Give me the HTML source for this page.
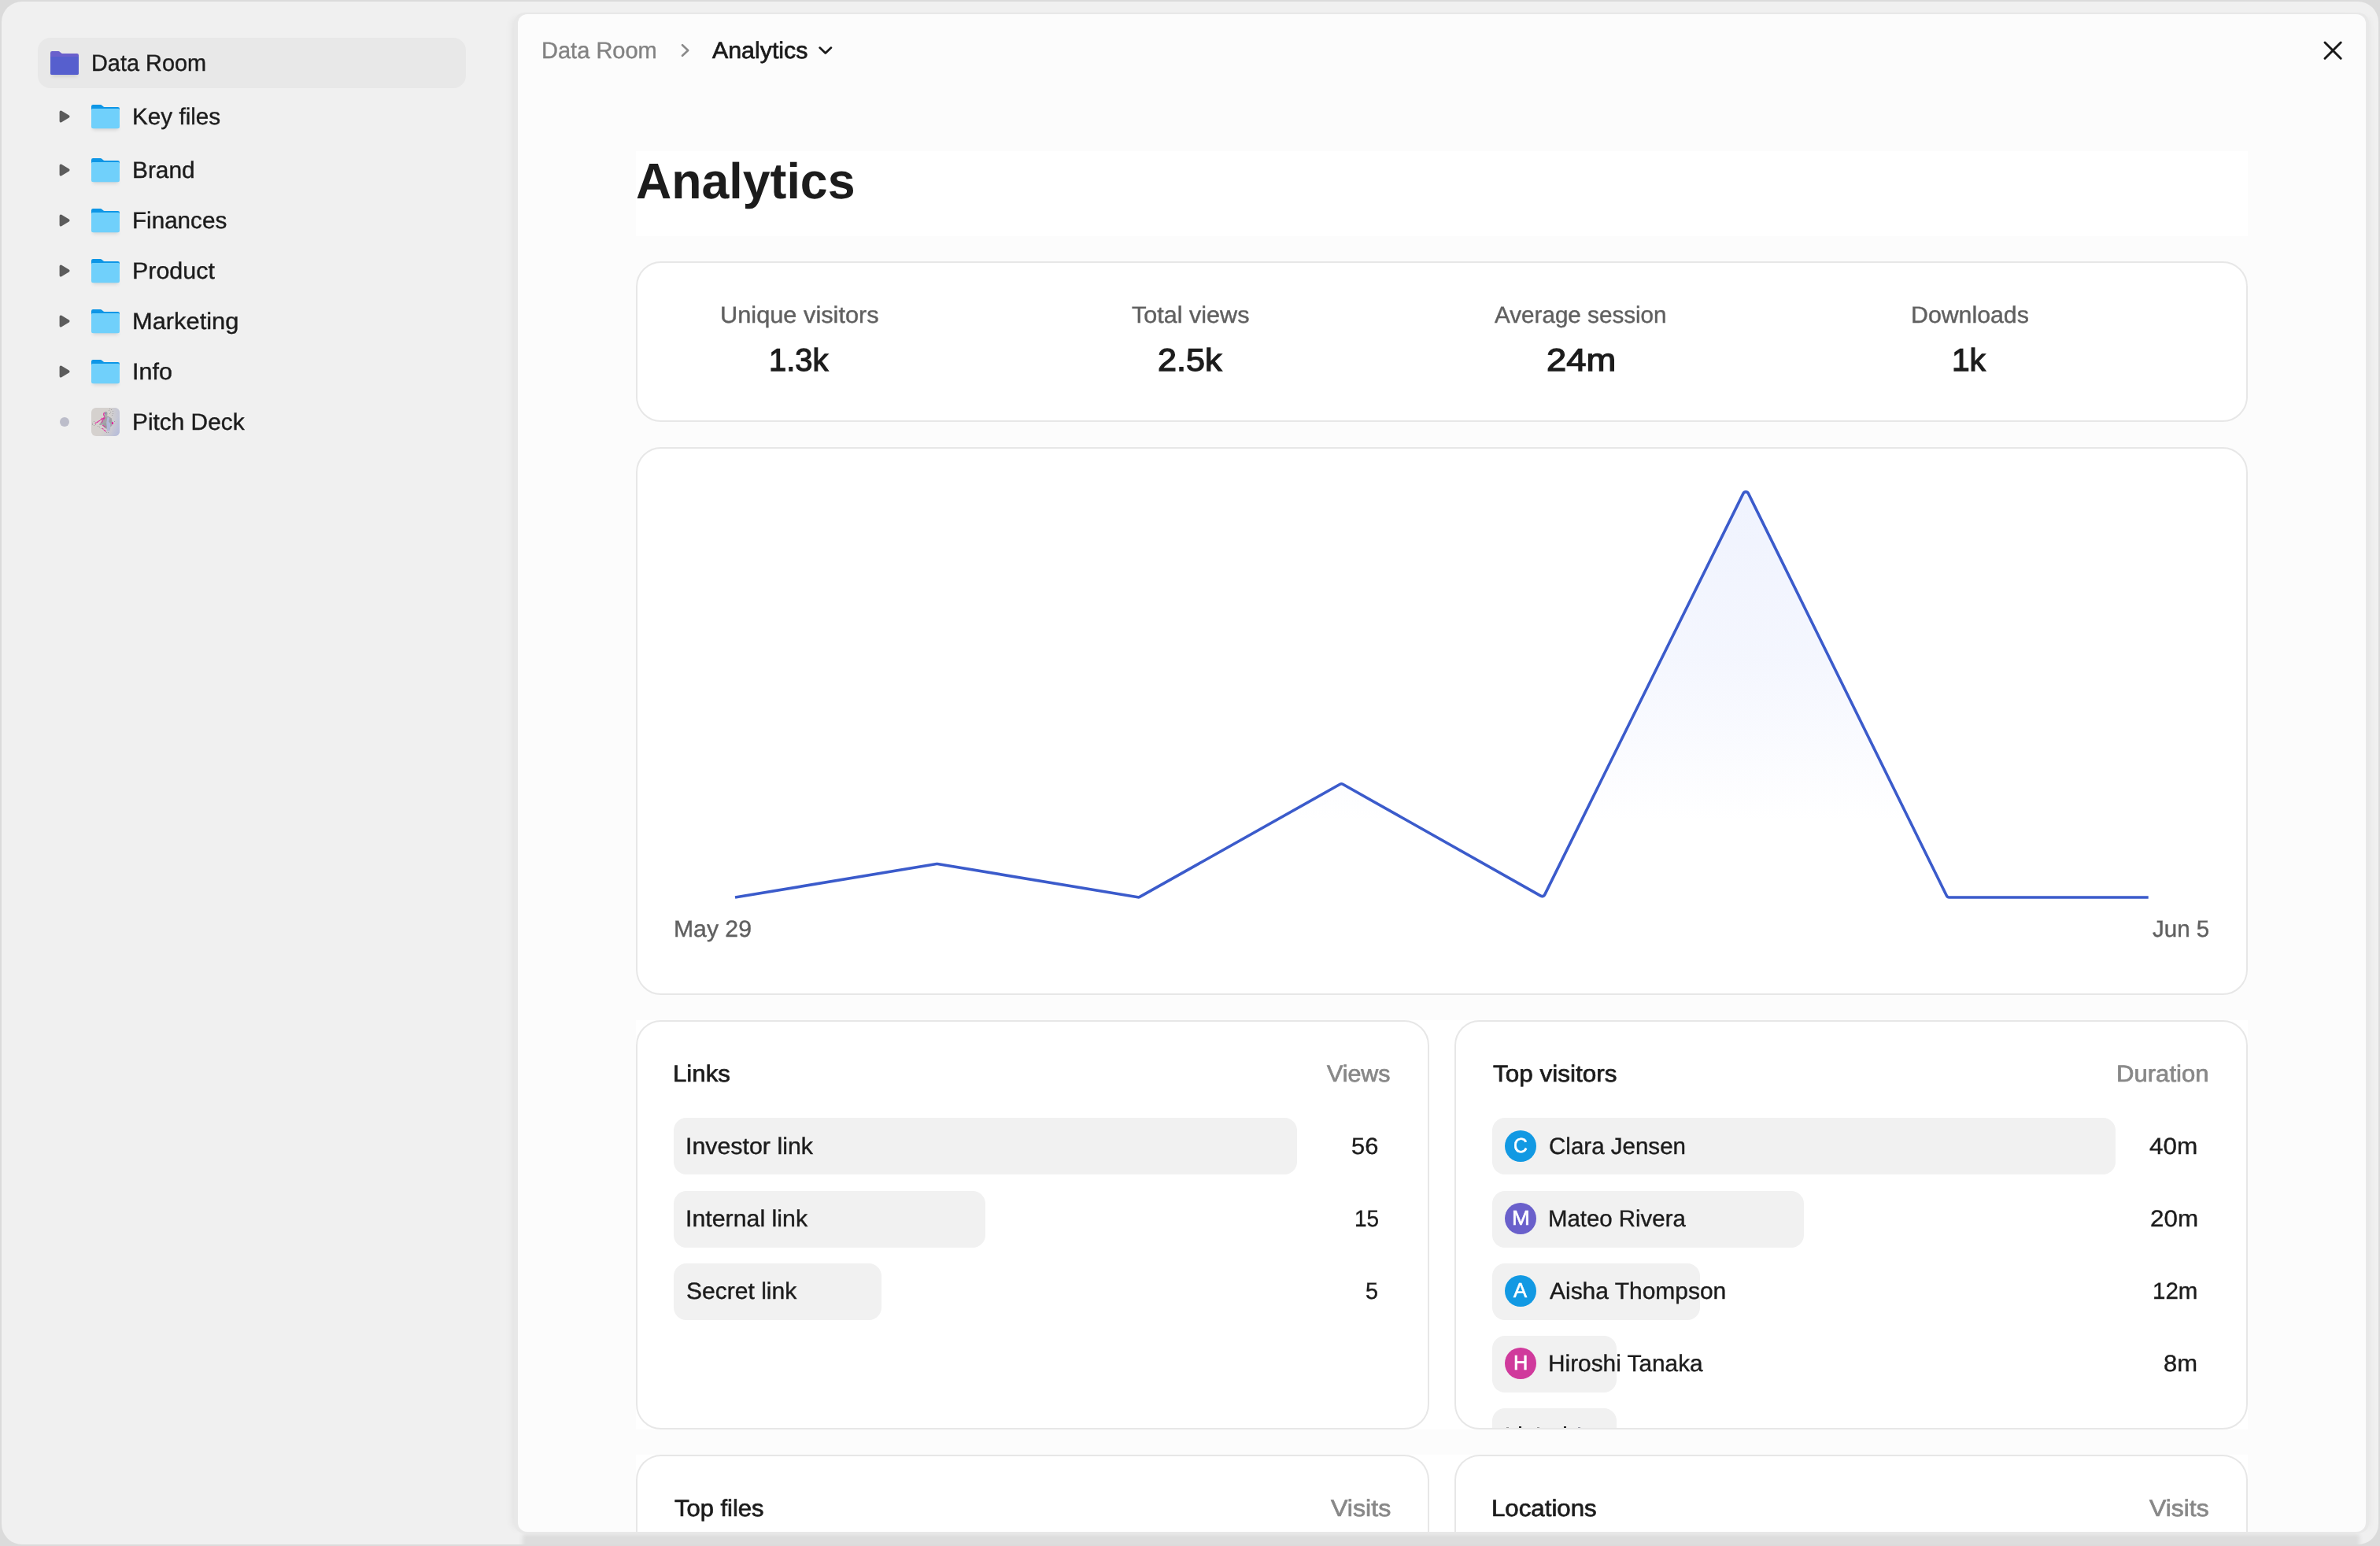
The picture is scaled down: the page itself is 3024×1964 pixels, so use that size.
<!DOCTYPE html>
<html lang="en"><head><meta charset="utf-8"><title>Data Room - Analytics</title>
<style>
*{box-sizing:border-box}
html,body{margin:0;padding:0}
body{width:3024px;height:1964px;overflow:hidden;background:#dbdbdb;position:relative;font-family:"Liberation Sans",sans-serif;text-rendering:geometricPrecision}
.a{position:absolute;display:block}
.t{position:absolute;white-space:pre;display:block;transform-origin:0 0}
.win{left:2px;top:2px;width:3020px;height:1960px;background:#f0f0f0;border-radius:26px;overflow:hidden}
.sel{left:48px;top:48px;width:544px;height:64px;border-radius:16px;background:#e8e8e8}
.panel{left:658px;top:18px;width:2348px;height:1928px;background:#fcfcfc;border-radius:12px;box-shadow:0 0 0 2px #e8e8e8,-3px 0 0 2px #e8e8e8,2px 0 0 2px #e8e8e8,-12px 0 10px -4px rgba(0,0,0,.05),10px 0 8px -4px rgba(0,0,0,.04)}
.band{left:666px;top:1951px;width:2326px;height:20px;background:#dddddd;box-shadow:0 0 5px 4px #dddddd}
.white{background:#fff}
.card{background:#fff;border:2px solid #e7e7e7;border-radius:32px;overflow:hidden}
.bar{background:#f1f1f1;border-radius:16px;height:72px}
.av{width:40px;height:40px;border-radius:50%}
</style></head><body>
<svg width="0" height="0" style="position:absolute"><defs><filter id="fb" x="-20%" y="-200%" width="140%" height="500%"><feGaussianBlur stdDeviation="2"/></filter></defs></svg>
<div class="a win"><div class="a band"></div></div>
<div class="a sel"></div>
<!-- sidebar icons -->
<svg class="a" style="left:58px;top:60px" width="48" height="44" viewBox="58 60 48 44">
<rect x="65.5" y="92" width="33" height="5" rx="2" fill="#000" fill-opacity=".13" filter="url(#fb)"/>
<path d="M64 67.2Q64 65 66.2 65H74.2Q75.2 65 75.9 65.7L77.6 67.3Q78.3 68 79.3 68H97.8Q100 68 100 70.2V92.8Q100 95 97.8 95H66.2Q64 95 64 92.8Z" fill="#6a60cc"/>
<path d="M64 72H100V92.8Q100 95 97.8 95H66.2Q64 95 64 92.8Z" fill="#565fce"/>
</svg>
<svg class="a" style="left:70.3px;top:136px" width="24" height="24" viewBox="-12 -12 24 24"><path d="M-4.7 -5.8L4.8 0L-4.7 5.8Z" fill="#5c5c5c" stroke="#5c5c5c" stroke-width="3.4" stroke-linejoin="round"/></svg><svg class="a" style="left:112px;top:129px" width="44" height="42" viewBox="-4 -4 44 42">
<rect x="1.5" y="27" width="33" height="5" rx="2" fill="#000" fill-opacity=".13" filter="url(#fb)"/>
<path d="M0 2.2Q0 0 2.2 0H11.6Q12.6 0 13.4 .7L15.4 2.6Q15.9 3 16.6 3H33.8Q36 3 36 5.2V10H0Z" fill="#0d96e6"/>
<path d="M0 6.6Q0 5 1.6 5H34.4Q36 5 36 6.6V28Q36 30.2 33.8 30.2H2.2Q0 30.2 0 28Z" fill="#70d0fb"/>
</svg><svg class="a" style="left:70.3px;top:204px" width="24" height="24" viewBox="-12 -12 24 24"><path d="M-4.7 -5.8L4.8 0L-4.7 5.8Z" fill="#5c5c5c" stroke="#5c5c5c" stroke-width="3.4" stroke-linejoin="round"/></svg><svg class="a" style="left:112px;top:197px" width="44" height="42" viewBox="-4 -4 44 42">
<rect x="1.5" y="27" width="33" height="5" rx="2" fill="#000" fill-opacity=".13" filter="url(#fb)"/>
<path d="M0 2.2Q0 0 2.2 0H11.6Q12.6 0 13.4 .7L15.4 2.6Q15.9 3 16.6 3H33.8Q36 3 36 5.2V10H0Z" fill="#0d96e6"/>
<path d="M0 6.6Q0 5 1.6 5H34.4Q36 5 36 6.6V28Q36 30.2 33.8 30.2H2.2Q0 30.2 0 28Z" fill="#70d0fb"/>
</svg><svg class="a" style="left:70.3px;top:268px" width="24" height="24" viewBox="-12 -12 24 24"><path d="M-4.7 -5.8L4.8 0L-4.7 5.8Z" fill="#5c5c5c" stroke="#5c5c5c" stroke-width="3.4" stroke-linejoin="round"/></svg><svg class="a" style="left:112px;top:261px" width="44" height="42" viewBox="-4 -4 44 42">
<rect x="1.5" y="27" width="33" height="5" rx="2" fill="#000" fill-opacity=".13" filter="url(#fb)"/>
<path d="M0 2.2Q0 0 2.2 0H11.6Q12.6 0 13.4 .7L15.4 2.6Q15.9 3 16.6 3H33.8Q36 3 36 5.2V10H0Z" fill="#0d96e6"/>
<path d="M0 6.6Q0 5 1.6 5H34.4Q36 5 36 6.6V28Q36 30.2 33.8 30.2H2.2Q0 30.2 0 28Z" fill="#70d0fb"/>
</svg><svg class="a" style="left:70.3px;top:332px" width="24" height="24" viewBox="-12 -12 24 24"><path d="M-4.7 -5.8L4.8 0L-4.7 5.8Z" fill="#5c5c5c" stroke="#5c5c5c" stroke-width="3.4" stroke-linejoin="round"/></svg><svg class="a" style="left:112px;top:325px" width="44" height="42" viewBox="-4 -4 44 42">
<rect x="1.5" y="27" width="33" height="5" rx="2" fill="#000" fill-opacity=".13" filter="url(#fb)"/>
<path d="M0 2.2Q0 0 2.2 0H11.6Q12.6 0 13.4 .7L15.4 2.6Q15.9 3 16.6 3H33.8Q36 3 36 5.2V10H0Z" fill="#0d96e6"/>
<path d="M0 6.6Q0 5 1.6 5H34.4Q36 5 36 6.6V28Q36 30.2 33.8 30.2H2.2Q0 30.2 0 28Z" fill="#70d0fb"/>
</svg><svg class="a" style="left:70.3px;top:396px" width="24" height="24" viewBox="-12 -12 24 24"><path d="M-4.7 -5.8L4.8 0L-4.7 5.8Z" fill="#5c5c5c" stroke="#5c5c5c" stroke-width="3.4" stroke-linejoin="round"/></svg><svg class="a" style="left:112px;top:389px" width="44" height="42" viewBox="-4 -4 44 42">
<rect x="1.5" y="27" width="33" height="5" rx="2" fill="#000" fill-opacity=".13" filter="url(#fb)"/>
<path d="M0 2.2Q0 0 2.2 0H11.6Q12.6 0 13.4 .7L15.4 2.6Q15.9 3 16.6 3H33.8Q36 3 36 5.2V10H0Z" fill="#0d96e6"/>
<path d="M0 6.6Q0 5 1.6 5H34.4Q36 5 36 6.6V28Q36 30.2 33.8 30.2H2.2Q0 30.2 0 28Z" fill="#70d0fb"/>
</svg><svg class="a" style="left:70.3px;top:460px" width="24" height="24" viewBox="-12 -12 24 24"><path d="M-4.7 -5.8L4.8 0L-4.7 5.8Z" fill="#5c5c5c" stroke="#5c5c5c" stroke-width="3.4" stroke-linejoin="round"/></svg><svg class="a" style="left:112px;top:453px" width="44" height="42" viewBox="-4 -4 44 42">
<rect x="1.5" y="27" width="33" height="5" rx="2" fill="#000" fill-opacity=".13" filter="url(#fb)"/>
<path d="M0 2.2Q0 0 2.2 0H11.6Q12.6 0 13.4 .7L15.4 2.6Q15.9 3 16.6 3H33.8Q36 3 36 5.2V10H0Z" fill="#0d96e6"/>
<path d="M0 6.6Q0 5 1.6 5H34.4Q36 5 36 6.6V28Q36 30.2 33.8 30.2H2.2Q0 30.2 0 28Z" fill="#70d0fb"/>
</svg>
<div class="a" style="left:76px;top:530px;width:12px;height:12px;border-radius:50%;background:#bcbdca"></div>
<svg class="a" style="left:116px;top:518px" width="36" height="36" viewBox="0 0 36 36">
<defs><clipPath id="tc"><rect width="36" height="36" rx="6"/></clipPath>
<linearGradient id="tg" x1="0" y1="0" x2="1" y2="0"><stop offset=".66" stop-color="#b2bade" stop-opacity="0"/><stop offset=".86" stop-color="#b2bade" stop-opacity=".32"/><stop offset="1" stop-color="#b2bade" stop-opacity=".5"/></linearGradient>
<linearGradient id="tg2" x1="0" y1="0" x2="1" y2="1"><stop offset=".62" stop-color="#aeb7dd" stop-opacity="0"/><stop offset="1" stop-color="#aeb7dd" stop-opacity=".7"/></linearGradient></defs>
<g clip-path="url(#tc)"><rect width="36" height="36" fill="#d5d1ce"/><rect width="36" height="36" fill="url(#tg)"/><rect width="36" height="36" fill="url(#tg2)"/>
<g fill="#8f8f92"><circle cx="23.6" cy="1.6" r=".5"/><circle cx="25.6" cy="2.6" r=".5"/><circle cx="22.6" cy="3.6" r=".5"/><circle cx="24.6" cy="5.4" r=".5"/><circle cx="27.6" cy="4.4" r=".5"/><circle cx="23.6" cy="7.6" r=".5"/><circle cx="27.6" cy="7.6" r=".5"/><circle cx="26.6" cy="9.6" r=".5"/><circle cx="3.6" cy="17.4" r=".5"/><circle cx="1.6" cy="19.6" r=".5"/><circle cx="1.6" cy="21.6" r=".5"/><circle cx="3.6" cy="22.6" r=".5"/><circle cx="5.6" cy="21.6" r=".5"/><circle cx="8.6" cy="23.6" r=".5"/><circle cx="10.6" cy="24.6" r=".5"/><circle cx="12.6" cy="26.6" r=".5"/><circle cx="19.6" cy="31.6" r=".5"/><circle cx="21.6" cy="31.6" r=".5"/><circle cx="29.6" cy="17.4" r=".5"/></g>
<ellipse cx="18.6" cy="7.6" rx="1.9" ry="2.9" fill="#a5a5a8"/>
<path d="M16.4 10.6L20.8 10.4L25.8 13.2L27 19.6L26.2 23L24.2 24.2L24 27.4L20 27.8L18.8 24.4L16 24.6L14.2 21.2L12 22.2L9.8 21.6L13 17.2L15.4 13.6Z" fill="#a4a4a8"/>
<path d="M20.6 11.4L23.2 13L22.2 17.8L24.4 20.2L23.6 29.6L20 29.6L19.8 24.2L19.2 19Z" fill="#b3bad9"/>
<path d="M23.4 13.4L25.6 14.8L26.4 19.6L24.6 20.2L22.6 17.6Z" fill="#a0a0a4"/>
<path d="M14.6 20.8L18.8 19.6L19.6 26.8L17.4 26L15.8 23.4Z" fill="#9c9ca1"/>
<path d="M16.4 6.4Q14.8 8.6 16.6 10.8" stroke="#e0249c" stroke-width="1.1" fill="none" stroke-linecap="round"/>
<path d="M5.2 19.6L9.4 17.2L13.2 14.4L17.4 12.8" stroke="#e0249c" stroke-width="1.2" fill="none" stroke-linecap="round" stroke-dasharray="1.2 1.3"/>
<path d="M13.4 13.2L14.2 16.4M15.4 12.8L16 15.2M13 19L14.2 17.2" stroke="#e0249c" stroke-width="1" fill="none" stroke-linecap="round"/>
<path d="M14.6 22.4L17.4 24.2M14.4 26.4L15.6 27.6M16.2 28.4L18.6 30" stroke="#e0249c" stroke-width="1.1" fill="none" stroke-linecap="round" stroke-dasharray="1 1.2"/>
<rect x="26" y="18.2" width="2" height="2.8" fill="#e0249c"/>
<rect x="17.9" y="6.6" width="1" height="1" fill="#5a5fd0"/>
</g></svg>
<!-- main panel -->
<div class="a panel"></div>
<svg class="a" style="left:860px;top:50px" width="24" height="28" viewBox="860 50 24 28"><path d="M867 57.2L874.2 64L867 70.8" fill="none" stroke="#8a8a8a" stroke-width="2.6" stroke-linecap="round" stroke-linejoin="round"/></svg>
<svg class="a" style="left:1034px;top:52px" width="30" height="24" viewBox="1034 52 30 24"><path d="M1041.6 60.6L1048.8 67.4L1056 60.6" fill="none" stroke="#1a1a1a" stroke-width="2.7" stroke-linecap="round" stroke-linejoin="round"/></svg>
<svg class="a" style="left:2944px;top:44px" width="40" height="40" viewBox="2944 44 40 40"><path d="M2954 54L2974.2 74.2M2974.2 54L2954 74.2" fill="none" stroke="#1a1a1a" stroke-width="3" stroke-linecap="round"/></svg>
<div class="a white" style="left:808px;top:192px;width:2048px;height:108px"></div>
<div class="a card" style="left:808px;top:332px;width:2048px;height:204px"></div>
<div class="a card" style="left:808px;top:568px;width:2048px;height:696px"></div>
<svg class="a" style="left:810px;top:570px" width="2044" height="692" viewBox="810 570 2044 692">
<defs><linearGradient id="cg" x1="0" y1="620" x2="0" y2="1140" gradientUnits="userSpaceOnUse"><stop offset="0" stop-color="#5075f2" stop-opacity=".088"/><stop offset=".42" stop-color="#5075f2" stop-opacity=".062"/><stop offset=".82" stop-color="#5075f2" stop-opacity="0"/></linearGradient></defs>
<path d="M934 1140L1190.01 1097.50A3.6 3.6 0 0 1 1191.19 1097.50L1445.75 1139.79A3.6 3.6 0 0 0 1448.10 1139.38L1702.63 996.29A3.6 3.6 0 0 1 1706.17 996.30L1957.69 1138.13A3.6 3.6 0 0 0 1962.69 1136.59L2214.97 626.83A3.6 3.6 0 0 1 2221.42 626.84L2473.41 1137.99A3.6 3.6 0 0 0 2476.64 1140.00L2729.7 1140Z" fill="url(#cg)"/>
<path d="M934 1140L1190.01 1097.50A3.6 3.6 0 0 1 1191.19 1097.50L1445.75 1139.79A3.6 3.6 0 0 0 1448.10 1139.38L1702.63 996.29A3.6 3.6 0 0 1 1706.17 996.30L1957.69 1138.13A3.6 3.6 0 0 0 1962.69 1136.59L2214.97 626.83A3.6 3.6 0 0 1 2221.42 626.84L2473.41 1137.99A3.6 3.6 0 0 0 2476.64 1140.00L2729.7 1140" fill="none" stroke="#3b5bcb" stroke-width="3.6" stroke-linejoin="round"/>
</svg>
<div class="a white" style="left:808px;top:1296px;width:2048px;height:520px"></div>
<div class="a white" style="left:808px;top:1848px;width:2048px;height:98px"></div>
<div class="a card" style="left:808px;top:1296px;width:1008px;height:520px"></div>
<div class="a card" style="left:1848px;top:1296px;width:1008px;height:520px"></div>
<div class="a card" style="left:808px;top:1848px;width:1008px;height:140px;border-bottom:0;border-radius:32px 32px 0 0;clip-path:inset(0 0 42px 0)"></div>
<div class="a card" style="left:1848px;top:1848px;width:1008px;height:140px;border-bottom:0;border-radius:32px 32px 0 0;clip-path:inset(0 0 42px 0)"></div>
<div class="a bar" style="left:856px;top:1420px;width:792px"></div>
<div class="a bar" style="left:856px;top:1513px;width:396px"></div>
<div class="a bar" style="left:856px;top:1605px;width:264px"></div>
<div class="a bar" style="left:1896px;top:1420px;width:792px"></div>
<div class="a bar" style="left:1896px;top:1513px;width:396px"></div>
<div class="a bar" style="left:1896px;top:1605px;width:264px"></div>
<div class="a bar" style="left:1896px;top:1697px;width:158px"></div>
<div class="a bar" style="left:1896px;top:1789px;width:158px;height:25px;border-radius:16px 16px 0 0"></div>
<div class="a" style="left:1914px;top:1812.6px;width:3px;height:1.4px;background:#9a9a9a"></div><div class="a" style="left:1930px;top:1812.4px;width:3.4px;height:1.6px;background:#222"></div><div class="a" style="left:1953px;top:1812.6px;width:3px;height:1.4px;background:#9a9a9a"></div><div class="a" style="left:1987px;top:1812.4px;width:3.4px;height:1.6px;background:#222"></div><div class="a" style="left:2005px;top:1812.6px;width:3px;height:1.4px;background:#9a9aa6"></div>
<div class="a av" style="left:1912px;top:1436px;background:#1299e3"></div>
<div class="a av" style="left:1912px;top:1528px;background:#6a60cb"></div>
<div class="a av" style="left:1912px;top:1620px;background:#1299e3"></div>
<div class="a av" style="left:1912px;top:1712px;background:#d03a9c"></div>
<div class="a" style="left:0;top:0;width:3024px;height:1964px;will-change:transform">
<span class="t" style="left:116.35px;top:66.00px;font-size:29.6px;line-height:29.6px;font-weight:400;color:#1c1c1c;transform:scaleX(0.9760);-webkit-text-stroke:0.40px #1c1c1c;">Data Room</span>
<span class="t" style="left:167.89px;top:134.00px;font-size:29.6px;line-height:29.6px;font-weight:400;color:#1c1c1c;transform:scaleX(1.0028);-webkit-text-stroke:0.40px #1c1c1c;">Key files</span>
<span class="t" style="left:167.88px;top:202.00px;font-size:29.6px;line-height:29.6px;font-weight:400;color:#1c1c1c;transform:scaleX(1.0093);-webkit-text-stroke:0.40px #1c1c1c;">Brand</span>
<span class="t" style="left:167.90px;top:266.00px;font-size:29.6px;line-height:29.6px;font-weight:400;color:#1c1c1c;transform:scaleX(1.0009);-webkit-text-stroke:0.40px #1c1c1c;">Finances</span>
<span class="t" style="left:167.84px;top:330.00px;font-size:29.6px;line-height:29.6px;font-weight:400;color:#1c1c1c;transform:scaleX(1.0280);-webkit-text-stroke:0.40px #1c1c1c;">Product</span>
<span class="t" style="left:167.82px;top:394.00px;font-size:29.6px;line-height:29.6px;font-weight:400;color:#1c1c1c;transform:scaleX(1.0421);-webkit-text-stroke:0.40px #1c1c1c;">Marketing</span>
<span class="t" style="left:167.54px;top:458.00px;font-size:29.6px;line-height:29.6px;font-weight:400;color:#1c1c1c;transform:scaleX(1.0298);-webkit-text-stroke:0.40px #1c1c1c;">Info</span>
<span class="t" style="left:167.58px;top:522.00px;font-size:29.6px;line-height:29.6px;font-weight:400;color:#1c1c1c;transform:scaleX(1.0079);-webkit-text-stroke:0.40px #1c1c1c;">Pitch Deck</span>
<span class="t" style="left:687.74px;top:50.00px;font-size:29.6px;line-height:29.6px;font-weight:400;color:#828282;transform:scaleX(0.9808);-webkit-text-stroke:0.40px #828282;">Data Room</span>
<span class="t" style="left:905.20px;top:50.00px;font-size:29.6px;line-height:29.6px;font-weight:400;color:#1a1a1a;transform:scaleX(1.0254);-webkit-text-stroke:0.71px #1a1a1a;">Analytics</span>
<span class="t" style="left:807.74px;top:198.00px;font-size:64px;line-height:64px;font-weight:700;color:#1c1c1c;transform:scaleX(0.9789);">Analytics</span>
<span class="t" style="left:914.92px;top:386.00px;font-size:29.6px;line-height:29.6px;font-weight:400;color:#606060;transform:scaleX(1.0393);-webkit-text-stroke:0.40px #606060;">Unique visitors</span>
<span class="t" style="left:976.62px;top:438.00px;font-size:40.2px;line-height:40.2px;font-weight:400;color:#1c1c1c;transform:scaleX(0.9920);-webkit-text-stroke:1.27px #1c1c1c;">1.3k</span>
<span class="t" style="left:1438.00px;top:386.00px;font-size:29.6px;line-height:29.6px;font-weight:400;color:#606060;transform:scaleX(1.0326);-webkit-text-stroke:0.40px #606060;">Total views</span>
<span class="t" style="left:1471.13px;top:438.00px;font-size:40.2px;line-height:40.2px;font-weight:400;color:#1c1c1c;transform:scaleX(1.0737);-webkit-text-stroke:1.27px #1c1c1c;">2.5k</span>
<span class="t" style="left:1899.20px;top:386.00px;font-size:29.6px;line-height:29.6px;font-weight:400;color:#606060;transform:scaleX(1.0014);-webkit-text-stroke:0.40px #606060;">Average session</span>
<span class="t" style="left:1964.67px;top:438.00px;font-size:40.2px;line-height:40.2px;font-weight:400;color:#1c1c1c;transform:scaleX(1.1280);-webkit-text-stroke:1.27px #1c1c1c;">24m</span>
<span class="t" style="left:2428.25px;top:386.00px;font-size:29.6px;line-height:29.6px;font-weight:400;color:#606060;transform:scaleX(1.0236);-webkit-text-stroke:0.40px #606060;">Downloads</span>
<span class="t" style="left:2480.48px;top:438.00px;font-size:40.2px;line-height:40.2px;font-weight:400;color:#1c1c1c;transform:scaleX(1.0122);-webkit-text-stroke:1.27px #1c1c1c;">1k</span>
<span class="t" style="left:855.76px;top:1166.00px;font-size:29.6px;line-height:29.6px;font-weight:400;color:#606060;transform:scaleX(1.0191);-webkit-text-stroke:0.40px #606060;">May 29</span>
<span class="t" style="left:2735.00px;top:1166.00px;font-size:29.6px;line-height:29.6px;font-weight:400;color:#606060;transform:scaleX(0.9972);-webkit-text-stroke:0.40px #606060;">Jun 5</span>
<span class="t" style="left:855.19px;top:1350.00px;font-size:29.6px;line-height:29.6px;font-weight:400;color:#1c1c1c;transform:scaleX(1.0545);-webkit-text-stroke:0.70px #1c1c1c;">Links</span>
<span class="t" style="left:1685.50px;top:1350.00px;font-size:29.6px;line-height:29.6px;font-weight:400;color:#888888;transform:scaleX(1.0269);-webkit-text-stroke:0.70px #888888;">Views</span>
<span class="t" style="left:1897.20px;top:1350.00px;font-size:29.6px;line-height:29.6px;font-weight:400;color:#1c1c1c;transform:scaleX(1.0633);-webkit-text-stroke:0.70px #1c1c1c;">Top visitors</span>
<span class="t" style="left:2688.90px;top:1350.00px;font-size:29.6px;line-height:29.6px;font-weight:400;color:#888888;transform:scaleX(1.0505);-webkit-text-stroke:0.70px #888888;">Duration</span>
<span class="t" style="left:857.00px;top:1902.00px;font-size:29.6px;line-height:29.6px;font-weight:400;color:#1c1c1c;transform:scaleX(1.0454);-webkit-text-stroke:0.70px #1c1c1c;">Top files</span>
<span class="t" style="left:1690.50px;top:1902.00px;font-size:29.6px;line-height:29.6px;font-weight:400;color:#888888;transform:scaleX(1.0870);-webkit-text-stroke:0.70px #888888;">Visits</span>
<span class="t" style="left:1894.89px;top:1902.00px;font-size:29.6px;line-height:29.6px;font-weight:400;color:#1c1c1c;transform:scaleX(1.0556);-webkit-text-stroke:0.70px #1c1c1c;">Locations</span>
<span class="t" style="left:2731.00px;top:1902.00px;font-size:29.6px;line-height:29.6px;font-weight:400;color:#888888;transform:scaleX(1.0768);-webkit-text-stroke:0.70px #888888;">Visits</span>
<span class="t" style="left:871.25px;top:1442.00px;font-size:29.6px;line-height:29.6px;font-weight:400;color:#1c1c1c;transform:scaleX(1.0256);-webkit-text-stroke:0.40px #1c1c1c;">Investor link</span>
<span class="t" style="left:871.25px;top:1534.00px;font-size:29.6px;line-height:29.6px;font-weight:400;color:#1c1c1c;transform:scaleX(1.0248);-webkit-text-stroke:0.40px #1c1c1c;">Internal link</span>
<span class="t" style="left:871.98px;top:1626.00px;font-size:29.6px;line-height:29.6px;font-weight:400;color:#1c1c1c;transform:scaleX(1.0153);-webkit-text-stroke:0.40px #1c1c1c;">Secret link</span>
<span class="t" style="left:1717.46px;top:1442.00px;font-size:29.6px;line-height:29.6px;font-weight:400;color:#1c1c1c;transform:scaleX(1.0419);-webkit-text-stroke:0.40px #1c1c1c;">56</span>
<span class="t" style="left:1720.61px;top:1534.00px;font-size:29.6px;line-height:29.6px;font-weight:400;color:#1c1c1c;transform:scaleX(0.9433);-webkit-text-stroke:0.40px #1c1c1c;">15</span>
<span class="t" style="left:1735.23px;top:1626.00px;font-size:29.6px;line-height:29.6px;font-weight:400;color:#1c1c1c;transform:scaleX(0.9733);-webkit-text-stroke:0.40px #1c1c1c;">5</span>
<span class="t" style="left:1968.30px;top:1442.00px;font-size:29.6px;line-height:29.6px;font-weight:400;color:#1c1c1c;transform:scaleX(0.9977);-webkit-text-stroke:0.40px #1c1c1c;">Clara Jensen</span>
<span class="t" style="left:1967.31px;top:1534.00px;font-size:29.6px;line-height:29.6px;font-weight:400;color:#1c1c1c;transform:scaleX(0.9931);-webkit-text-stroke:0.40px #1c1c1c;">Mateo Rivera</span>
<span class="t" style="left:1969.00px;top:1626.00px;font-size:29.6px;line-height:29.6px;font-weight:400;color:#1c1c1c;transform:scaleX(1.0123);-webkit-text-stroke:0.40px #1c1c1c;">Aisha Thompson</span>
<span class="t" style="left:1966.99px;top:1718.00px;font-size:29.6px;line-height:29.6px;font-weight:400;color:#1c1c1c;transform:scaleX(1.0072);-webkit-text-stroke:0.40px #1c1c1c;">Hiroshi Tanaka</span>
<span class="t" style="left:2731.40px;top:1442.00px;font-size:29.6px;line-height:29.6px;font-weight:400;color:#1c1c1c;transform:scaleX(1.0643);-webkit-text-stroke:0.40px #1c1c1c;">40m</span>
<span class="t" style="left:2731.64px;top:1534.00px;font-size:29.6px;line-height:29.6px;font-weight:400;color:#1c1c1c;transform:scaleX(1.0600);-webkit-text-stroke:0.40px #1c1c1c;">20m</span>
<span class="t" style="left:2735.21px;top:1626.00px;font-size:29.6px;line-height:29.6px;font-weight:400;color:#1c1c1c;transform:scaleX(0.9963);-webkit-text-stroke:0.40px #1c1c1c;">12m</span>
<span class="t" style="left:2749.15px;top:1718.00px;font-size:29.6px;line-height:29.6px;font-weight:400;color:#1c1c1c;transform:scaleX(1.0462);-webkit-text-stroke:0.40px #1c1c1c;">8m</span>
<span class="t" style="left:1923.06px;top:1442.00px;font-size:26.2px;line-height:26.2px;font-weight:400;color:#ffffff;transform:scaleX(0.9412);-webkit-text-stroke:0.62px #ffffff;">C</span>
<span class="t" style="left:1920.51px;top:1534.00px;font-size:26.2px;line-height:26.2px;font-weight:400;color:#ffffff;transform:scaleX(1.0444);-webkit-text-stroke:0.62px #ffffff;">M</span>
<span class="t" style="left:1923.20px;top:1626.00px;font-size:26.2px;line-height:26.2px;font-weight:400;color:#ffffff;transform:scaleX(0.9778);-webkit-text-stroke:0.62px #ffffff;">A</span>
<span class="t" style="left:1922.87px;top:1718.00px;font-size:26.2px;line-height:26.2px;font-weight:400;color:#ffffff;transform:scaleX(0.9667);-webkit-text-stroke:0.62px #ffffff;">H</span>
</div>
</body></html>
